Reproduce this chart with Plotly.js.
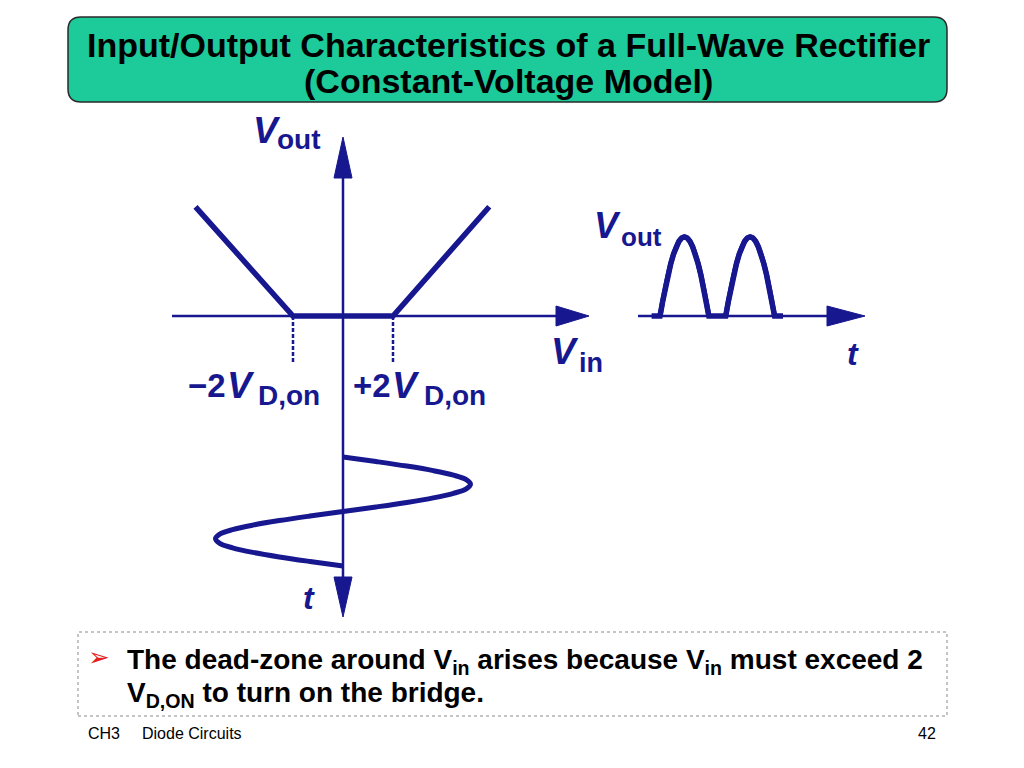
<!DOCTYPE html>
<html><head><meta charset="utf-8">
<script src="https://cdn.plot.ly/plotly-3.0.1.min.js"></script>
<style>html,body{margin:0;padding:0;background:#fff;}#chart{width:1024px;height:768px;}</style>
</head><body><div id="chart"></div>
<script>
// ---------------- data ----------------
// Transfer characteristic: V_in and V_out in units of V_D,on
const transferVin  = [-5.9, -2, 2, 5.85];
const transferVout = [3.9, 0, 0, 3.9];
const thresholdVin = [-2, 2];               // -2 V_D,on and +2 V_D,on
// Input sine (V_in vs phase in degrees, time runs downward)
const inputPhase = [0,15,30,45,60,75,90,105,120,135,150,165,180,195,210,225,240,255,270,285,300,315,330,345,360];
const inputVin   = [0,1.32,2.55,3.61,4.42,4.93,5.1,4.93,4.42,3.61,2.55,1.32,0,-1.32,-2.55,-3.61,-4.42,-4.93,-5.1,-4.93,-4.42,-3.61,-2.55,-1.32,0];
// Output waveform (V_out vs phase in degrees)
const outputPhase = [0,23.1,30,37.5,45,52.5,60,67.5,75,82.5,90,97.5,105,112.5,120,127.5,135,142.5,150,156.9,
                     180,203.1,210,217.5,225,232.5,240,247.5,255,262.5,270,277.5,285,292.5,300,307.5,315,322.5,330,336.9,360];
const outputVout  = [0,0,0.55,1.1,1.61,2.05,2.42,2.71,2.93,3.06,3.1,3.06,2.93,2.71,2.42,2.05,1.61,1.1,0.55,0,
                     0,0,0.55,1.1,1.61,2.05,2.42,2.71,2.93,3.06,3.1,3.06,2.93,2.71,2.42,2.05,1.61,1.1,0.55,0,0];

// ---------------- layout geometry (pixels) ----------------
const W = 1024, H = 768;
const BLUE = '#17178f';
const X0 = 343, XS = 25;         // px of V_in=0, px per unit
const Y0 = 316, YS = 28;         // px of V_out=0, px per unit
const T0 = 457, TS = 109/360;    // input phase axis (downward)
const P0 = 651.6, PS = 0.365, Q0 = 316, QS = 25.5;   // output waveform axes

const px2x  = p => (p - X0) / XS;
const px2y  = p => (Y0 - p) / YS;
const px2p  = p => (p - P0) / PS;
const px2q  = p => (Q0 - p) / QS;
const pxX = p => p / W, pxY = p => 1 - p / H;

// split the output into dead-zone flats and conducting humps
const humpX = [], humpY = [];
outputVout.forEach((v, i) => {
  const prev = outputVout[i-1], next = outputVout[i+1];
  if (v > 0 || (next !== undefined && next > 0) || (prev !== undefined && prev > 0)) {
    humpX.push(outputPhase[i]); humpY.push(v);
  } else if (humpX.length && humpX[humpX.length-1] !== null) {
    humpX.push(null); humpY.push(null);
  }
});

const traces = [
  {x: transferVin, y: transferVout, xaxis:'x', yaxis:'y', mode:'lines',
   line:{color:BLUE, width:5.5}, hoverinfo:'skip'},
  {x: [thresholdVin[0], thresholdVin[0], null, thresholdVin[1], thresholdVin[1]],
   y: [0, px2y(362), null, 0, px2y(362)], xaxis:'x', yaxis:'y', mode:'lines',
   line:{color:BLUE, width:2.5, dash:'4px,2px'}, hoverinfo:'skip'},
  {x: inputVin, y: inputPhase, xaxis:'x', yaxis:'y2', mode:'lines',
   line:{color:BLUE, width:5, shape:'spline', smoothing:1}, hoverinfo:'skip'},
  {x: outputPhase, y: outputVout, xaxis:'x3', yaxis:'y3', mode:'lines',
   line:{color:BLUE, width:5.5}, hoverinfo:'skip'},
  {x: humpX, y: humpY, xaxis:'x3', yaxis:'y3', mode:'lines', connectgaps:false,
   line:{color:BLUE, width:5, shape:'spline', smoothing:0.6}, hoverinfo:'skip'}
];

const shapes = [];
function line(xref, yref, x0, y0, x1, y1, w) {
  shapes.push({type:'line', xref, yref, x0, y0, x1, y1, line:{color:BLUE, width:w}, layer:'below'});
}
function tri(xref, yref, pts) {
  let d = 'M' + pts.map(p => p[0] + ',' + p[1]).join(' L') + ' Z';
  shapes.push({type:'path', xref, yref, path:d, fillcolor:BLUE, line:{color:BLUE, width:1}});
}
line('x','y', px2x(172), 0, px2x(560), 0, 2.5);
tri('x','y', [[px2x(556), 10/YS], [px2x(589), 0], [px2x(556), -10/YS]]);
line('x','y', 0, px2y(175), 0, px2y(580), 2.5);
tri('x','y', [[-9/XS, px2y(178)], [0, px2y(137)], [9/XS, px2y(178)]]);
tri('x','y', [[-9/XS, px2y(577)], [0, px2y(617)], [9/XS, px2y(577)]]);
line('x3','y3', px2p(638), 0, px2p(830), 0, 2.5);
tri('x3','y3', [[px2p(827), 10/QS], [px2p(865), 0], [px2p(827), -10/QS]]);

(function(){
  const l=68,r=947,t=17,b=102,rad=13;
  const rx=rad/W, ry=rad/H;
  const L=pxX(l),R=pxX(r),T=pxY(t),B=pxY(b);
  const d=`M${L+rx},${T} L${R-rx},${T} Q${R},${T} ${R},${T-ry} L${R},${B+ry} Q${R},${B} ${R-rx},${B} L${L+rx},${B} Q${L},${B} ${L},${B+ry} L${L},${T-ry} Q${L},${T} ${L+rx},${T} Z`;
  shapes.push({type:'path', xref:'paper', yref:'paper', path:d, fillcolor:'#1dca9a', line:{color:'#2a2a2a', width:1.5}, layer:'below'});
})();
shapes.push({type:'rect', xref:'paper', yref:'paper', x0:pxX(78), x1:pxX(947), y0:pxY(716), y1:pxY(632),
  line:{color:'#8a8a8a', width:1, dash:'dot'}, layer:'below'});

const ann = [];
function txt(text, xpx, ypx, size, opts) {
  opts = opts || {};
  ann.push({text, xref:'paper', yref:'paper', x:pxX(xpx), y:pxY(ypx), showarrow:false,
    xanchor: opts.xa || 'left', yanchor: opts.ya || 'middle',
    font:{family: opts.family || 'Liberation Sans, Arial, sans-serif', size, color: opts.color || BLUE,
          weight: opts.weight || 'bold', style: opts.style || 'normal'}});
}
const SANS = '"Liberation Sans", Arial, sans-serif';
// title
txt('Input/Output Characteristics of a Full-Wave Rectifier', 508, 45, 34, {xa:'center', family:SANS, color:'#000'});
txt('(Constant-Voltage Model)', 508, 81, 34, {xa:'center', family:SANS, color:'#000'});
// diagram labels
txt('V', 251, 130, 37, {style:'italic'});
txt('out', 275, 140, 28);
txt('\u22122', 186, 385, 33);
txt('V', 225, 385, 37, {style:'italic'});
txt('D,on', 256, 395, 28);
txt('+2', 351, 385, 33);
txt('V', 390, 385, 37, {style:'italic'});
txt('D,on', 422, 395, 28);
txt('V', 549, 351, 37, {style:'italic'});
txt('in', 577, 363, 27);
txt('V', 592, 225, 36, {style:'italic'});
txt('out', 619, 237, 26);
txt('t', 845, 354, 32, {style:'italic'});
txt('t', 301, 598, 32, {style:'italic'});
// bullet
txt('\u27A2', 86, 657, 26, {color:'#e3211c', family:'DejaVu Sans', weight:'normal'});
txt('The dead-zone around V<sub>in</sub> arises because V<sub>in</sub> must exceed 2', 125, 661, 28, {family:SANS, color:'#000'});
txt('V<sub>D,ON</sub> to turn on the bridge.', 125, 694, 28, {family:SANS, color:'#000'});
// footer
txt('CH3', 86, 733, 16, {family:SANS, color:'#000', weight:'normal'});
txt('Diode Circuits', 140, 733, 16, {family:SANS, color:'#000', weight:'normal'});
txt('42', 938, 733, 16, {family:SANS, color:'#000', weight:'normal', xa:'right'});

const hid = {visible:false, fixedrange:true, showgrid:false, zeroline:false};
const layout = {
  width:W, height:H, autosize:false, margin:{l:0,r:0,t:0,b:0},
  paper_bgcolor:'#fff', plot_bgcolor:'rgba(0,0,0,0)', showlegend:false,
  xaxis: Object.assign({domain:[0,1], range:[px2x(0), px2x(W)]}, hid),
  yaxis: Object.assign({domain:[0,1], range:[px2y(H), px2y(0)]}, hid),
  yaxis2: Object.assign({overlaying:'y', anchor:'x', range:[(H-T0)/TS, (0-T0)/TS]}, hid),
  xaxis3: Object.assign({overlaying:'x', anchor:'y3', range:[px2p(0), px2p(W)]}, hid),
  yaxis3: Object.assign({overlaying:'y', anchor:'x3', range:[px2q(H), px2q(0)]}, hid),
  shapes, annotations: ann
};
Plotly.newPlot('chart', traces, layout, {displayModeBar:false, staticPlot:true});
</script>
</body></html>
